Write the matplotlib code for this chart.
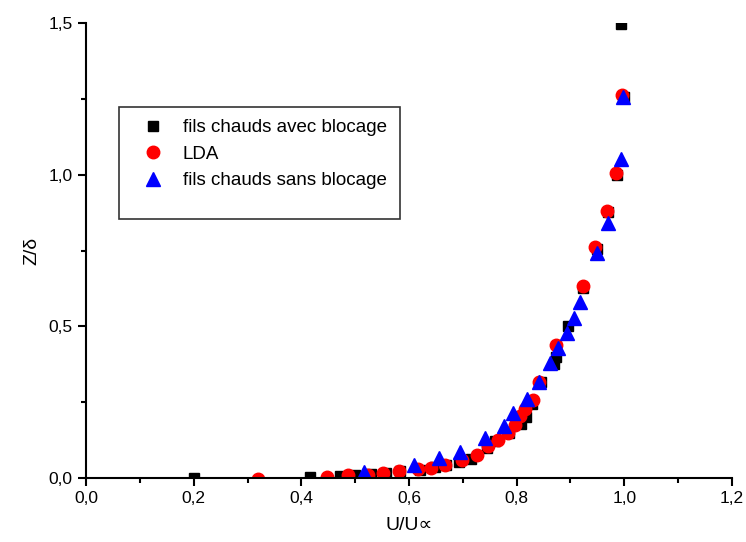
import matplotlib
matplotlib.use('Agg')
import matplotlib.pyplot as plt
from matplotlib.ticker import FuncFormatter, MultipleLocator
from matplotlib.patches import Rectangle

plt.rcParams['font.family'] = ['Liberation Sans', 'DejaVu Sans']

# fils chauds avec blocage
avec_x = [0.2, 0.417, 0.471, 0.5, 0.529, 0.558, 0.583, 0.62, 0.648, 0.668, 0.692,
          0.716, 0.745, 0.76, 0.785, 0.809, 0.818, 0.828, 0.845, 0.869, 0.873,
          0.895, 0.923, 0.95, 0.97, 0.987, 0.999, 0.993]
avec_y = [0.0, 0.004, 0.007, 0.01, 0.012, 0.016, 0.022, 0.028, 0.036, 0.042, 0.052,
          0.062, 0.1, 0.122, 0.148, 0.178, 0.2, 0.245, 0.315, 0.375, 0.4,
          0.5, 0.628, 0.755, 0.876, 1.0, 1.255, 1.497]

# LDA
lda_x = [0.32, 0.447, 0.486, 0.524, 0.552, 0.581, 0.617, 0.64, 0.667, 0.698, 0.726,
         0.747, 0.766, 0.783, 0.797, 0.806, 0.816, 0.83, 0.842, 0.874, 0.923,
         0.946, 0.968, 0.985, 0.995]
lda_y = [-0.004, 0.004, 0.009, 0.011, 0.016, 0.024, 0.03, 0.034, 0.043, 0.06, 0.076,
         0.105, 0.124, 0.149, 0.175, 0.204, 0.226, 0.256, 0.318, 0.44, 0.633,
         0.762, 0.88, 1.005, 1.262]

# fils chauds sans blocage
sans_x = [0.516, 0.61, 0.656, 0.695, 0.741, 0.776, 0.794, 0.82, 0.842, 0.862, 0.876,
          0.894, 0.907, 0.918, 0.95, 0.97, 0.993, 0.997]
sans_y = [0.021, 0.044, 0.066, 0.087, 0.132, 0.17, 0.213, 0.262, 0.318, 0.378, 0.428,
          0.478, 0.528, 0.58, 0.741, 0.842, 1.05, 1.255]

fig = plt.figure(figsize=(7.46, 5.42), dpi=100)
ax = fig.add_axes([0.1153, 0.118, 0.8659, 0.8396])

ax.plot(avec_x, avec_y, 's', color='black', ms=7, label='fils chauds avec blocage')
ax.plot(lda_x, lda_y, 'o', color='red', ms=9, label='LDA')
ax.plot(sans_x, sans_y, '^', color='blue', ms=9.5, label='fils chauds sans blocage')

ax.set_xlim(0, 1.2)
ax.set_ylim(0, 1.5)
ax.xaxis.set_major_locator(MultipleLocator(0.2))
ax.xaxis.set_minor_locator(MultipleLocator(0.1))
ax.yaxis.set_major_locator(MultipleLocator(0.5))
ax.yaxis.set_minor_locator(MultipleLocator(0.25))
comma = FuncFormatter(lambda v, p: f'{v:.1f}'.replace('.', ','))
ax.xaxis.set_major_formatter(comma)
ax.yaxis.set_major_formatter(comma)

for s in ['top', 'right']:
    ax.spines[s].set_visible(False)
for s in ['left', 'bottom']:
    ax.spines[s].set_linewidth(1.5)
    ax.spines[s].set_zorder(3)
ax.tick_params(which='major', direction='out', length=6, width=1.5, labelsize=12.5)
ax.tick_params(which='minor', direction='out', length=3.5, width=1.5)

ax.set_xlabel('U/U∝', fontsize=14, labelpad=8)
ax.set_ylabel('Z/δ', fontsize=14, labelpad=6)

leg = ax.legend(loc='upper left', bbox_to_anchor=(0.074, 0.805), frameon=False,
                fontsize=13.5, handletextpad=1.0, labelspacing=0.5,
                borderaxespad=0, handlelength=1.2)
ax.add_patch(Rectangle((0.051, 0.569), 0.435, 0.246, transform=ax.transAxes,
                       fill=False, edgecolor='#333333', linewidth=1.2))

fig.savefig('out.png', dpi=100)
